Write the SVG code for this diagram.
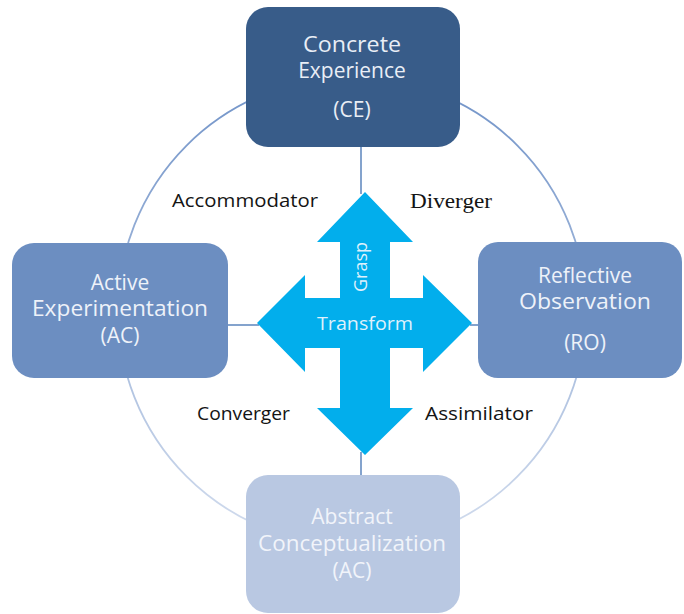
<svg xmlns="http://www.w3.org/2000/svg" width="684" height="614" viewBox="0 0 684 614">
<defs>
<linearGradient id="ringGrad" x1="0" y1="0" x2="0" y2="1">
<stop offset="0" stop-color="#7193c8"/>
<stop offset="1" stop-color="#d3ddee"/>
</linearGradient>
<style>
.box-text{font-family:"Open Sans","DejaVu Sans",sans-serif;font-size:21px;text-anchor:middle;}
.lbl{font-family:"Open Sans","Liberation Sans",sans-serif;font-size:18px;fill:#141414;}
.conn{stroke:#5b84bd;stroke-width:1.5;fill:none;}
.arrow-text{font-family:"Open Sans","Liberation Sans",sans-serif;font-size:18px;fill:#dff1fc;text-anchor:middle;}
</style>
</defs>
<rect width="684" height="614" fill="#ffffff"/>
<g id="ring">
<circle cx="352" cy="311" r="234" fill="none" stroke="url(#ringGrad)" stroke-width="1.8"/>
</g>
<g id="connectors">
<line class="conn" x1="361" y1="146" x2="361" y2="194"/>
<line class="conn" x1="228" y1="325" x2="259" y2="325"/>
<line class="conn" x1="470" y1="325" x2="479" y2="325"/>
<line class="conn" x1="361" y1="452" x2="361" y2="476"/>
</g>
<g id="node-ce">
<rect x="246" y="7" width="214" height="140" rx="22" fill="#385c89"/>
<text class="box-text" fill="#e9eef6" x="352" y="52" textLength="98" lengthAdjust="spacingAndGlyphs">Concrete</text>
<text class="box-text" fill="#e9eef6" x="352" y="78">Experience</text>
<text class="box-text" fill="#e9eef6" x="352" y="117">(CE)</text>
</g>
<g id="node-ae">
<rect x="12" y="243" width="216" height="135" rx="22" fill="#6c8ec1"/>
<text class="box-text" fill="#eef2f9" x="120" y="290">Active</text>
<text class="box-text" fill="#eef2f9" x="120" y="316" textLength="176" lengthAdjust="spacingAndGlyphs">Experimentation</text>
<text class="box-text" fill="#eef2f9" x="120" y="343">(AC)</text>
</g>
<g id="node-ro">
<rect x="478" y="242" width="204" height="136" rx="20" fill="#6c8ec1"/>
<text class="box-text" fill="#eef2f9" x="585" y="283">Reflective</text>
<text class="box-text" fill="#eef2f9" x="585" y="309" textLength="132" lengthAdjust="spacingAndGlyphs">Observation</text>
<text class="box-text" fill="#eef2f9" x="585" y="350">(RO)</text>
</g>
<g id="node-ac">
<rect x="246" y="475" width="214" height="138" rx="22" fill="#b9c8e2"/>
<text class="box-text" fill="#f1f4fa" x="352" y="524">Abstract</text>
<text class="box-text" fill="#f1f4fa" x="352" y="551" textLength="188" lengthAdjust="spacingAndGlyphs">Conceptualization</text>
<text class="box-text" fill="#f1f4fa" x="352" y="578">(AC)</text>
</g>
<g id="cross-arrow">
<polygon fill="#02aeec" points="365,192 413,242 390,242 390,298 423,298 423,275 472,323 423,372 423,348 390,348 390,408 413,408 365,455 317,408 340,408 340,348 305,348 305,372 257,323 305,275 305,298 340,298 340,242 317,242"/>
<text class="arrow-text" transform="translate(367,267) rotate(-90)">Grasp</text>
<text class="arrow-text" x="365" y="330" textLength="96" lengthAdjust="spacingAndGlyphs">Transform</text>
</g>
<g id="labels">
<text class="lbl" x="172" y="207" textLength="146" lengthAdjust="spacingAndGlyphs">Accommodator</text>
<text x="410" y="208" font-family="'Liberation Serif','Times New Roman',serif" font-size="20" fill="#141414" textLength="82" lengthAdjust="spacingAndGlyphs">Diverger</text>
<text class="lbl" x="197" y="420" textLength="93" lengthAdjust="spacingAndGlyphs">Converger</text>
<text class="lbl" x="425" y="420" textLength="108" lengthAdjust="spacingAndGlyphs">Assimilator</text>
</g>
</svg>
